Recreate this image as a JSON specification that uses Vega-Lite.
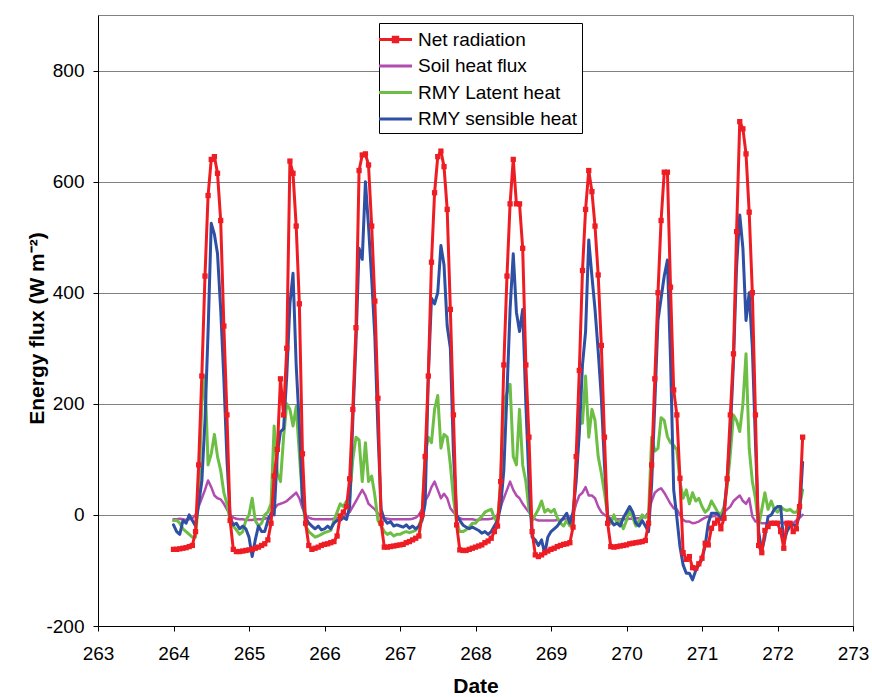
{
  "$schema": "https://vega.github.io/schema/vega-lite/v6.json",
  "width": 755,
  "height": 611,
  "autosize": {"type": "none"},
  "padding": {"left": 98, "top": 15, "right": 19, "bottom": 71},
  "background": "#ffffff",
  "config": {
    "font": "Liberation Sans",
    "view": {"stroke": "#808080", "strokeWidth": 1},
    "axis": {
      "labelFont": "Liberation Sans", "titleFont": "Liberation Sans",
      "labelColor": "#000000", "titleColor": "#000000",
      "domainColor": "#000000", "tickColor": "#000000",
      "labelFontSize": 19, "titleFontSize": 21, "titleFontWeight": "bold",
      "tickSize": 5, "domainWidth": 1, "tickWidth": 1
    }
  },
  "data": {"values": [
    {"t":264.000,"net":-62,"soil":-8,"latent":-10,"sensible":-18},
    {"t":264.042,"net":-62,"soil":-8,"latent":-10,"sensible":-30},
    {"t":264.083,"net":-61,"soil":-7,"latent":-15,"sensible":-35},
    {"t":264.125,"net":-60,"soil":-8,"latent":-25,"sensible":-10},
    {"t":264.167,"net":-59,"soil":-9,"latent":-30,"sensible":-15},
    {"t":264.208,"net":-57,"soil":-8,"latent":-35,"sensible":0},
    {"t":264.250,"net":-55,"soil":-6,"latent":-40,"sensible":-10},
    {"t":264.292,"net":-30,"soil":0,"latent":-40,"sensible":-20},
    {"t":264.333,"net":90,"soil":15,"latent":30,"sensible":20},
    {"t":264.375,"net":250,"soil":30,"latent":200,"sensible":60},
    {"t":264.417,"net":430,"soil":45,"latent":250,"sensible":170},
    {"t":264.458,"net":575,"soil":62,"latent":90,"sensible":330},
    {"t":264.500,"net":640,"soil":50,"latent":110,"sensible":525},
    {"t":264.542,"net":645,"soil":35,"latent":145,"sensible":505},
    {"t":264.583,"net":615,"soil":30,"latent":105,"sensible":470},
    {"t":264.625,"net":530,"soil":28,"latent":80,"sensible":370},
    {"t":264.667,"net":340,"soil":20,"latent":40,"sensible":245},
    {"t":264.708,"net":180,"soil":10,"latent":20,"sensible":100},
    {"t":264.750,"net":-10,"soil":0,"latent":-10,"sensible":-5},
    {"t":264.792,"net":-62,"soil":-5,"latent":-20,"sensible":-18},
    {"t":264.833,"net":-66,"soil":-7,"latent":-27,"sensible":-15},
    {"t":264.875,"net":-66,"soil":-8,"latent":-35,"sensible":-25},
    {"t":264.917,"net":-65,"soil":-8,"latent":-30,"sensible":-20},
    {"t":264.958,"net":-64,"soil":-9,"latent":-10,"sensible":-25},
    {"t":265.000,"net":-63,"soil":-9,"latent":0,"sensible":-40},
    {"t":265.042,"net":-62,"soil":-9,"latent":30,"sensible":-75},
    {"t":265.083,"net":-60,"soil":-8,"latent":-10,"sensible":-45},
    {"t":265.125,"net":-58,"soil":-8,"latent":-20,"sensible":-20},
    {"t":265.167,"net":-55,"soil":-8,"latent":-15,"sensible":-30},
    {"t":265.208,"net":-52,"soil":-7,"latent":0,"sensible":-30},
    {"t":265.250,"net":-45,"soil":-5,"latent":5,"sensible":-10},
    {"t":265.292,"net":-15,"soil":0,"latent":20,"sensible":3},
    {"t":265.333,"net":70,"soil":10,"latent":160,"sensible":0},
    {"t":265.375,"net":118,"soil":18,"latent":75,"sensible":110},
    {"t":265.417,"net":245,"soil":20,"latent":60,"sensible":150},
    {"t":265.458,"net":180,"soil":22,"latent":140,"sensible":155},
    {"t":265.500,"net":300,"soil":25,"latent":200,"sensible":250},
    {"t":265.542,"net":637,"soil":30,"latent":190,"sensible":380},
    {"t":265.583,"net":615,"soil":35,"latent":160,"sensible":435},
    {"t":265.625,"net":520,"soil":40,"latent":195,"sensible":270},
    {"t":265.667,"net":380,"soil":30,"latent":110,"sensible":160},
    {"t":265.708,"net":110,"soil":12,"latent":30,"sensible":25},
    {"t":265.750,"net":-15,"soil":0,"latent":-20,"sensible":-5},
    {"t":265.792,"net":-55,"soil":-5,"latent":-30,"sensible":-15},
    {"t":265.833,"net":-62,"soil":-7,"latent":-35,"sensible":-20},
    {"t":265.875,"net":-60,"soil":-8,"latent":-40,"sensible":-25},
    {"t":265.917,"net":-58,"soil":-8,"latent":-38,"sensible":-20},
    {"t":265.958,"net":-55,"soil":-8,"latent":-35,"sensible":-27},
    {"t":266.000,"net":-53,"soil":-8,"latent":-32,"sensible":-25},
    {"t":266.042,"net":-52,"soil":-8,"latent":-30,"sensible":-20},
    {"t":266.083,"net":-50,"soil":-8,"latent":-28,"sensible":-25},
    {"t":266.125,"net":-48,"soil":-7,"latent":-10,"sensible":-15},
    {"t":266.167,"net":-38,"soil":-6,"latent":5,"sensible":-10},
    {"t":266.208,"net":-2,"soil":-5,"latent":20,"sensible":-10},
    {"t":266.250,"net":5,"soil":-3,"latent":15,"sensible":-5},
    {"t":266.292,"net":15,"soil":0,"latent":25,"sensible":-8},
    {"t":266.333,"net":65,"soil":5,"latent":30,"sensible":15},
    {"t":266.375,"net":190,"soil":15,"latent":100,"sensible":170},
    {"t":266.417,"net":337,"soil":25,"latent":140,"sensible":310},
    {"t":266.458,"net":620,"soil":35,"latent":135,"sensible":480},
    {"t":266.500,"net":648,"soil":45,"latent":60,"sensible":460},
    {"t":266.542,"net":650,"soil":35,"latent":130,"sensible":600},
    {"t":266.583,"net":630,"soil":20,"latent":60,"sensible":520},
    {"t":266.625,"net":520,"soil":15,"latent":70,"sensible":425},
    {"t":266.667,"net":385,"soil":10,"latent":35,"sensible":320},
    {"t":266.708,"net":210,"soil":3,"latent":-10,"sensible":150},
    {"t":266.750,"net":-15,"soil":-3,"latent":-20,"sensible":10},
    {"t":266.792,"net":-58,"soil":-6,"latent":-30,"sensible":-8},
    {"t":266.833,"net":-58,"soil":-7,"latent":-35,"sensible":-15},
    {"t":266.875,"net":-57,"soil":-8,"latent":-32,"sensible":-12},
    {"t":266.917,"net":-56,"soil":-8,"latent":-38,"sensible":-20},
    {"t":266.958,"net":-55,"soil":-8,"latent":-35,"sensible":-18},
    {"t":267.000,"net":-54,"soil":-8,"latent":-35,"sensible":-20},
    {"t":267.042,"net":-53,"soil":-8,"latent":-32,"sensible":-22},
    {"t":267.083,"net":-50,"soil":-8,"latent":-30,"sensible":-18},
    {"t":267.125,"net":-48,"soil":-8,"latent":-32,"sensible":-24},
    {"t":267.167,"net":-45,"soil":-7,"latent":-30,"sensible":-20},
    {"t":267.208,"net":-42,"soil":-5,"latent":-28,"sensible":-25},
    {"t":267.250,"net":-38,"soil":0,"latent":-20,"sensible":-20},
    {"t":267.292,"net":0,"soil":10,"latent":-3,"sensible":-10},
    {"t":267.333,"net":105,"soil":25,"latent":110,"sensible":20},
    {"t":267.375,"net":250,"soil":35,"latent":140,"sensible":250},
    {"t":267.417,"net":455,"soil":50,"latent":130,"sensible":390},
    {"t":267.458,"net":580,"soil":60,"latent":190,"sensible":380},
    {"t":267.500,"net":645,"soil":45,"latent":215,"sensible":400},
    {"t":267.542,"net":655,"soil":30,"latent":120,"sensible":485},
    {"t":267.583,"net":627,"soil":38,"latent":145,"sensible":450},
    {"t":267.625,"net":550,"soil":30,"latent":140,"sensible":340},
    {"t":267.667,"net":370,"soil":12,"latent":90,"sensible":300},
    {"t":267.708,"net":180,"soil":5,"latent":30,"sensible":110},
    {"t":267.750,"net":-18,"soil":-2,"latent":-15,"sensible":0},
    {"t":267.792,"net":-63,"soil":-6,"latent":-30,"sensible":-10},
    {"t":267.833,"net":-64,"soil":-8,"latent":-30,"sensible":-18},
    {"t":267.875,"net":-64,"soil":-8,"latent":-27,"sensible":-22},
    {"t":267.917,"net":-62,"soil":-8,"latent":-22,"sensible":-25},
    {"t":267.958,"net":-60,"soil":-8,"latent":-15,"sensible":-22},
    {"t":268.000,"net":-58,"soil":-9,"latent":-15,"sensible":-25},
    {"t":268.042,"net":-56,"soil":-9,"latent":-8,"sensible":-28},
    {"t":268.083,"net":-54,"soil":-8,"latent":-3,"sensible":-33},
    {"t":268.125,"net":-50,"soil":-8,"latent":5,"sensible":-30},
    {"t":268.167,"net":-47,"soil":-8,"latent":8,"sensible":-35},
    {"t":268.208,"net":-42,"soil":-7,"latent":10,"sensible":-30},
    {"t":268.250,"net":-30,"soil":-5,"latent":-5,"sensible":-20},
    {"t":268.292,"net":-20,"soil":0,"latent":-15,"sensible":-10},
    {"t":268.333,"net":60,"soil":15,"latent":60,"sensible":15},
    {"t":268.375,"net":270,"soil":30,"latent":205,"sensible":80},
    {"t":268.417,"net":430,"soil":45,"latent":220,"sensible":220},
    {"t":268.458,"net":560,"soil":60,"latent":235,"sensible":370},
    {"t":268.500,"net":640,"soil":45,"latent":105,"sensible":470},
    {"t":268.542,"net":560,"soil":35,"latent":90,"sensible":365},
    {"t":268.583,"net":560,"soil":30,"latent":190,"sensible":330},
    {"t":268.625,"net":480,"soil":20,"latent":90,"sensible":370},
    {"t":268.667,"net":270,"soil":12,"latent":60,"sensible":200},
    {"t":268.708,"net":140,"soil":5,"latent":10,"sensible":60},
    {"t":268.750,"net":-30,"soil":-3,"latent":-10,"sensible":-40},
    {"t":268.792,"net":-72,"soil":-8,"latent":0,"sensible":-45},
    {"t":268.833,"net":-75,"soil":-10,"latent":10,"sensible":-55},
    {"t":268.875,"net":-72,"soil":-10,"latent":25,"sensible":-45},
    {"t":268.917,"net":-68,"soil":-10,"latent":5,"sensible":-70},
    {"t":268.958,"net":-65,"soil":-10,"latent":10,"sensible":-40},
    {"t":269.000,"net":-62,"soil":-10,"latent":5,"sensible":-30},
    {"t":269.042,"net":-60,"soil":-10,"latent":10,"sensible":-25},
    {"t":269.083,"net":-57,"soil":-9,"latent":-5,"sensible":-20},
    {"t":269.125,"net":-55,"soil":-9,"latent":-15,"sensible":-12},
    {"t":269.167,"net":-53,"soil":-8,"latent":-20,"sensible":-5},
    {"t":269.208,"net":-52,"soil":-7,"latent":-10,"sensible":3},
    {"t":269.250,"net":-50,"soil":-5,"latent":-20,"sensible":-15},
    {"t":269.292,"net":-22,"soil":0,"latent":-10,"sensible":5},
    {"t":269.333,"net":105,"soil":20,"latent":90,"sensible":60},
    {"t":269.375,"net":260,"soil":35,"latent":165,"sensible":147},
    {"t":269.417,"net":440,"soil":40,"latent":165,"sensible":270},
    {"t":269.458,"net":550,"soil":50,"latent":250,"sensible":330},
    {"t":269.500,"net":620,"soil":35,"latent":140,"sensible":495},
    {"t":269.542,"net":582,"soil":35,"latent":190,"sensible":430},
    {"t":269.583,"net":520,"soil":30,"latent":170,"sensible":370},
    {"t":269.625,"net":432,"soil":15,"latent":105,"sensible":295},
    {"t":269.667,"net":305,"soil":5,"latent":75,"sensible":210},
    {"t":269.708,"net":140,"soil":0,"latent":40,"sensible":90},
    {"t":269.750,"net":-15,"soil":-3,"latent":0,"sensible":-3},
    {"t":269.792,"net":-57,"soil":-6,"latent":-15,"sensible":-10},
    {"t":269.833,"net":-58,"soil":-7,"latent":0,"sensible":-18},
    {"t":269.875,"net":-57,"soil":-8,"latent":-15,"sensible":-15},
    {"t":269.917,"net":-56,"soil":-8,"latent":-10,"sensible":-20},
    {"t":269.958,"net":-55,"soil":-8,"latent":-25,"sensible":-5},
    {"t":270.000,"net":-54,"soil":-8,"latent":-10,"sensible":5},
    {"t":270.042,"net":-52,"soil":-7,"latent":10,"sensible":15},
    {"t":270.083,"net":-51,"soil":-7,"latent":-5,"sensible":5},
    {"t":270.125,"net":-50,"soil":-6,"latent":-20,"sensible":-15},
    {"t":270.167,"net":-49,"soil":-6,"latent":-10,"sensible":-20},
    {"t":270.208,"net":-48,"soil":-5,"latent":0,"sensible":-10},
    {"t":270.250,"net":-46,"soil":-3,"latent":-5,"sensible":-20},
    {"t":270.292,"net":-15,"soil":5,"latent":0,"sensible":-30},
    {"t":270.333,"net":90,"soil":25,"latent":140,"sensible":55},
    {"t":270.375,"net":245,"soil":40,"latent":115,"sensible":200},
    {"t":270.417,"net":400,"soil":45,"latent":120,"sensible":350},
    {"t":270.458,"net":530,"soil":48,"latent":175,"sensible":390},
    {"t":270.500,"net":617,"soil":40,"latent":170,"sensible":430},
    {"t":270.542,"net":617,"soil":30,"latent":141,"sensible":459},
    {"t":270.583,"net":410,"soil":20,"latent":130,"sensible":280},
    {"t":270.625,"net":225,"soil":12,"latent":125,"sensible":45},
    {"t":270.667,"net":180,"soil":10,"latent":117,"sensible":-5},
    {"t":270.708,"net":66,"soil":0,"latent":60,"sensible":-57},
    {"t":270.750,"net":-68,"soil":-9,"latent":30,"sensible":-90},
    {"t":270.792,"net":-80,"soil":-12,"latent":45,"sensible":-105},
    {"t":270.833,"net":-75,"soil":-12,"latent":20,"sensible":-105},
    {"t":270.875,"net":-95,"soil":-15,"latent":40,"sensible":-117},
    {"t":270.917,"net":-96,"soil":-14,"latent":25,"sensible":-100},
    {"t":270.958,"net":-88,"soil":-12,"latent":30,"sensible":-90},
    {"t":271.000,"net":-78,"soil":-8,"latent":15,"sensible":-80},
    {"t":271.042,"net":-51,"soil":-5,"latent":5,"sensible":-55},
    {"t":271.083,"net":-54,"soil":-3,"latent":10,"sensible":-15},
    {"t":271.125,"net":-24,"soil":-3,"latent":25,"sensible":3},
    {"t":271.167,"net":-15,"soil":-2,"latent":15,"sensible":3},
    {"t":271.208,"net":-9,"soil":0,"latent":5,"sensible":2},
    {"t":271.250,"net":-25,"soil":2,"latent":0,"sensible":-8},
    {"t":271.292,"net":-6,"soil":5,"latent":15,"sensible":5},
    {"t":271.333,"net":65,"soil":10,"latent":50,"sensible":65},
    {"t":271.375,"net":180,"soil":15,"latent":110,"sensible":150},
    {"t":271.417,"net":290,"soil":25,"latent":180,"sensible":275},
    {"t":271.458,"net":510,"soil":30,"latent":170,"sensible":447},
    {"t":271.500,"net":708,"soil":35,"latent":150,"sensible":540},
    {"t":271.542,"net":695,"soil":25,"latent":200,"sensible":480},
    {"t":271.583,"net":650,"soil":20,"latent":290,"sensible":350},
    {"t":271.625,"net":545,"soil":30,"latent":120,"sensible":400},
    {"t":271.667,"net":400,"soil":-3,"latent":60,"sensible":300},
    {"t":271.708,"net":180,"soil":-12,"latent":30,"sensible":130},
    {"t":271.750,"net":-55,"soil":-12,"latent":-20,"sensible":-30},
    {"t":271.792,"net":-68,"soil":-15,"latent":10,"sensible":-65},
    {"t":271.833,"net":-28,"soil":-15,"latent":40,"sensible":-40},
    {"t":271.875,"net":-21,"soil":-15,"latent":10,"sensible":-3},
    {"t":271.917,"net":-15,"soil":-15,"latent":25,"sensible":0},
    {"t":271.958,"net":-15,"soil":-15,"latent":10,"sensible":10},
    {"t":272.000,"net":-15,"soil":-15,"latent":5,"sensible":15},
    {"t":272.042,"net":-30,"soil":-14,"latent":15,"sensible":15},
    {"t":272.083,"net":-60,"soil":-14,"latent":10,"sensible":-50},
    {"t":272.125,"net":-15,"soil":-15,"latent":8,"sensible":-30},
    {"t":272.167,"net":-15,"soil":-15,"latent":10,"sensible":-20},
    {"t":272.208,"net":-30,"soil":-15,"latent":5,"sensible":-18},
    {"t":272.250,"net":-25,"soil":-10,"latent":5,"sensible":-20},
    {"t":272.292,"net":15,"soil":-5,"latent":15,"sensible":0},
    {"t":272.333,"net":140,"soil":0,"latent":45,"sensible":95}
  ]},
  "transform": [{"fold": ["net", "soil", "latent", "sensible"], "as": ["series", "value"]}],
  "encoding": {
    "x": {
      "field": "t", "type": "quantitative",
      "scale": {"domain": [263, 273], "nice": false, "zero": false},
      "axis": {
        "values": [263, 264, 265, 266, 267, 268, 269, 270, 271, 272, 273],
        "labelExpr": "'' + datum.value", "grid": false, "labelPadding": 13,
        "labelOverlap": false, "labelFlush": false,
        "title": "Date", "titleY": 66, "titleBaseline": "alphabetic"
      }
    },
    "y": {
      "field": "value", "type": "quantitative",
      "scale": {"domain": [-200, 900], "nice": false, "zero": false},
      "axis": {
        "values": [-200, 0, 200, 400, 600, 800],
        "labelExpr": "'' + datum.value", "grid": true, "gridColor": "#808080", "gridWidth": 1,
        "labelPadding": 9,
        "title": "Energy flux (W m⁻²)", "titleAngle": -90, "titleX": -55, "titleY": 313,
        "titleAlign": "center", "titleBaseline": "alphabetic"
      }
    },
    "color": {
      "field": "series", "type": "nominal",
      "scale": {"domain": ["net", "soil", "latent", "sensible"], "range": ["#EE1D23", "#B24DAF", "#6DBE45", "#2E4FA3"]},
      "legend": {
        "orient": "none", "legendX": 281, "legendY": 8, "title": null, "direction": "vertical",
        "fillColor": "#ffffff", "strokeColor": "#000000", "padding": 4,
        "labelFont": "Liberation Sans", "labelFontSize": 19, "labelColor": "#000000", "labelOffset": 10, "labelLimit": 400,
        "labelExpr": "datum.value == 'net' ? 'Net radiation' : datum.value == 'soil' ? 'Soil heat flux' : datum.value == 'latent' ? 'RMY Latent heat' : 'RMY sensible heat'",
        "symbolType": "M-1.5,0H1.5", "symbolSize": 484, "symbolStrokeWidth": 3, "rowPadding": 3.5,
        "encode": {"symbols": {"update": {
          "shape": {"signal": "datum.value === 'net' ? 'M-1.5,0H1.5M-0.2,-0.2H0.2V0.2H-0.2Z' : 'M-1.5,0H1.5'"},
          "fill": {"signal": "datum.value === 'net' ? '#EE1D23' : 'transparent'"}
        }}}
      }
    }
  },
  "layer": [
    {"transform": [{"filter": "datum.series === 'soil'"}], "mark": {"type": "line", "strokeWidth": 2.5, "strokeJoin": "round", "strokeCap": "round"}},
    {"transform": [{"filter": "datum.series === 'latent'"}], "mark": {"type": "line", "strokeWidth": 3, "strokeJoin": "round", "strokeCap": "round"}},
    {"transform": [{"filter": "datum.series === 'sensible'"}], "mark": {"type": "line", "strokeWidth": 3, "strokeJoin": "round", "strokeCap": "round"}},
    {"transform": [{"filter": "datum.series === 'net'"}], "mark": {"type": "line", "strokeWidth": 3, "strokeJoin": "round", "strokeCap": "round", "point": {"shape": "square", "size": 28, "filled": true}}}
  ]
}
